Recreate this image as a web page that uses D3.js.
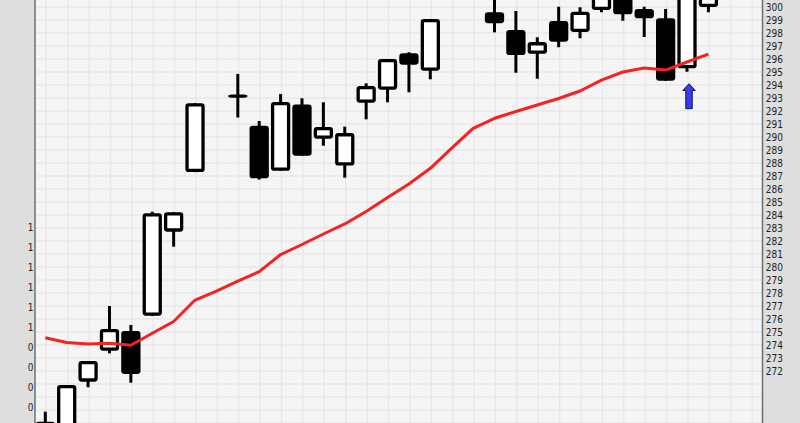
<!DOCTYPE html>
<meta charset="utf-8">
<script src="https://d3js.org/d3.v7.min.js"></script>
<style>
  body { margin: 0; background: #dedede; }
  svg { display: block; }
</style>
<div id="my_div"></div>

<script>
    // candle values, one slot per session (null = nothing drawn in that slot)
    var opens  = [266.5, 266.0, 271.18, 273.56, 275.08, 276.25, 282.72, 287.3, null, 293.15, 290.87, 287.4, 292.5, 289.87, 287.8, 292.64, 293.64, 296.44, 295.1, null, null, 299.6, 298.23, 296.4, 298.92, 298.08, 299.77, 301.5, 299.85, 299.13, 295.28, 300.0];
    var highs  = [268.87, 270.92, 272.77, 277.0, 275.54, 284.25, 284.21, 292.6, null, 294.85, 291.23, 293.3, 292.98, 292.67, 290.8, 294.13, 296.0, 296.52, 299.08, null, null, 301.5, 299.7, 297.67, 300.02, 299.98, 302.0, 302.0, 300.02, 299.85, 301.5, 301.5];
    var lows   = [266.0, 265.5, 270.75, 273.36, 271.1, 276.25, 281.56, 287.3, null, 291.5, 286.73, 287.4, 288.56, 289.33, 286.87, 291.36, 292.67, 293.44, 294.44, null, null, 298.05, 294.95, 294.48, 296.9, 297.6, 299.6, 298.95, 297.7, 294.33, 295.02, 299.6];
    var closes = [268.1, 270.92, 272.77, 275.23, 271.77, 284.13, 284.21, 292.6, null, 293.15, 286.82, 292.7, 288.56, 290.77, 290.3, 293.92, 296.0, 295.56, 299.08, null, null, 298.75, 296.3, 297.3, 297.33, 299.64, 301.5, 299.44, 299.13, 294.33, 301.5, 301.0];

    // moving average (red line)
    var average = [274.56, 274.19, 274.08, 274.13, 273.98, 274.9, 275.81, 277.46, 278.15, 278.92, 279.64, 280.96, 281.73, 282.54, 283.31, 284.27, 285.35, 286.38, 287.59, 289.15, 290.67, 291.44, 291.96, 292.46, 292.96, 293.54, 294.38, 295.0, 295.31, 295.15, 295.77, 296.38];

    // buy signal arrow: slot and price of the tip
    var signalSlot = 30, signalPrice = 294.1;

    // price axis ticks (right) and the clipped labels of the left axis
    var priceTicks = d3.range(272, 301);
    var leftLabels = ["1", "1", "1", "1", "1", "1", "0", "0", "0", "0"];

    var width = 800, height = 423;
    var plotLeft = 35, plotRight = 762.5;

    var svg = d3.select("#my_div")
      .append("svg")
        .attr("width", width)
        .attr("height", height)
        .style("font-family", "'DejaVu Sans Condensed', 'DejaVu Sans', sans-serif")
        .style("font-stretch", "condensed");

    // scales
    var x = d3.scaleLinear()
      .domain([0, opens.length - 1])
      .range([45.3, 708.4]);
    var y = d3.scaleLinear()
      .domain([272, 300])
      .range([371, 7]);
    var yLeft = d3.scalePoint()
      .domain(d3.range(leftLabels.length))
      .range([227.7, 407.7]);

    // backgrounds
    svg.append("rect")
      .attr("width", width).attr("height", height)
      .style("fill", "#dedede");
    svg.append("rect")
      .attr("x", plotLeft).attr("y", 0)
      .attr("width", plotRight - plotLeft).attr("height", height)
      .style("fill", "#f5f5f5");

    svg.append("clipPath").attr("id", "plot")
      .append("rect")
        .attr("x", plotLeft).attr("y", 0)
        .attr("width", plotRight - plotLeft).attr("height", height);

    var plot = svg.append("g").attr("clip-path", "url(#plot)");

    // grid
    plot.selectAll(".hgrid")
      .data(d3.range(267, 302))
      .enter().append("line")
        .attr("x1", plotLeft).attr("x2", plotRight)
        .attr("y1", function(d) { return y(d) })
        .attr("y2", function(d) { return y(d) })
        .style("stroke", "#e7e7e7").style("stroke-width", 1.3);
    plot.selectAll(".vgrid")
      .data(d3.range(0, opens.length + 2))
      .enter().append("line")
        .attr("x1", function(d) { return x(d) + 1 })
        .attr("x2", function(d) { return x(d) + 1 })
        .attr("y1", 0).attr("y2", height)
        .style("stroke", "#e7e7e7").style("stroke-width", 1.3);

    // candles
    var candles = opens.map(function(o, i) {
      return {i: i, o: o, h: highs[i], l: lows[i], c: closes[i]};
    }).filter(function(d) { return d.o !== null });

    plot.selectAll(".wick")
      .data(candles)
      .enter().append("line")
        .attr("x1", function(d) { return x(d.i) })
        .attr("x2", function(d) { return x(d.i) })
        .attr("y1", function(d) { return y(d.h) })
        .attr("y2", function(d) { return y(d.l) })
        .style("stroke", "black").style("stroke-width", 3);

    // bodies; a doji keeps a tiny height so its stroke still shows as a bar
    var sw = 3.3, bodyW = 16;
    plot.selectAll(".body")
      .data(candles)
      .enter().append("rect")
        .attr("x", function(d) { return x(d.i) - bodyW / 2 })
        .attr("y", function(d) {
          var top = y(Math.max(d.o, d.c)), bot = y(Math.min(d.o, d.c));
          return bot - top > sw ? top + sw / 2 : (top + bot) / 2;
        })
        .attr("width", bodyW)
        .attr("height", function(d) { return Math.max(0.01, y(Math.min(d.o, d.c)) - y(Math.max(d.o, d.c)) - sw) })
        .attr("rx", 1.5).attr("ry", 1.5)
        .style("fill", function(d) { return d.c >= d.o ? "white" : "black" })
        .style("stroke", "black")
        .style("stroke-width", sw);

    // moving average
    plot.append("path")
      .datum(average)
      .attr("d", d3.line()
        .x(function(d, i) { return x(i) })
        .y(function(d) { return y(d) }))
      .style("fill", "none")
      .style("stroke", "#f52222")
      .style("stroke-width", 3)
      .style("stroke-linejoin", "round");

    // signal arrow
    var ax = x(signalSlot) + 2, ay = y(signalPrice);
    plot.append("path")
      .attr("d", "M" + ax + "," + ay +
        " l6.2,6.7 h-3 v18.3 h-6.4 v-18.3 h-3 z")
      .style("fill", "#3a3af5")
      .style("stroke", "#101050")
      .style("stroke-width", 1);

    // right price axis
    svg.append("g")
      .attr("transform", "translate(" + plotRight + ",0)")
      .style("font-size", "10px")
      .style("fill", "#222")
      .selectAll("text")
      .data(priceTicks)
      .enter().append("text")
        .attr("x", 3.3)
        .attr("y", function(d) { return y(d) + 3.7 })
        .text(function(d) { return d });

    // left axis (labels are cut off by the narrow margin)
    svg.append("g")
      .style("font-size", "10px")
      .style("fill", "#222")
      .selectAll("text")
      .data(leftLabels)
      .enter().append("text")
        .attr("x", 33.5)
        .attr("y", function(d, i) { return yLeft(i) + 3.7 })
        .attr("text-anchor", "end")
        .text(function(d) { return d });

    // axis lines
    svg.append("line")
      .attr("x1", plotLeft).attr("x2", plotLeft)
      .attr("y1", 0).attr("y2", height)
      .style("stroke", "#687272").style("stroke-width", 1.5);
    svg.append("line")
      .attr("x1", plotRight).attr("x2", plotRight)
      .attr("y1", 0).attr("y2", height)
      .style("stroke", "#687272").style("stroke-width", 1.5);
</script>
